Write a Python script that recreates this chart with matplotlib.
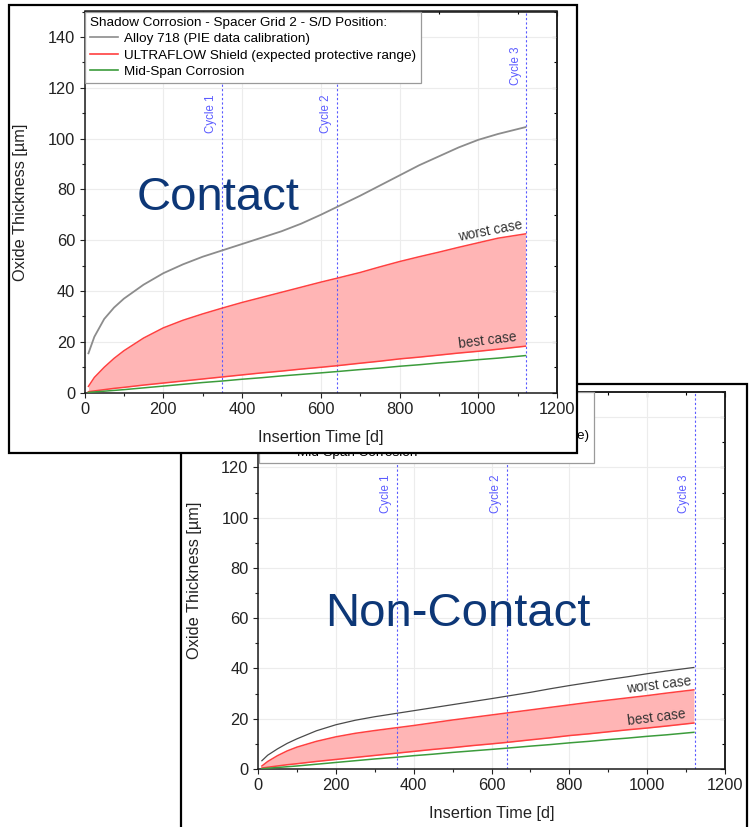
import matplotlib
matplotlib.use("Agg")
import matplotlib.pyplot as plt
from matplotlib.patches import Rectangle
from matplotlib.lines import Line2D
from matplotlib.ticker import MultipleLocator

plt.rcParams['font.family'] = ['Liberation Sans', 'DejaVu Sans']

# insertion time grid [d]
t_days = [10, 25, 50, 75, 100, 150, 200, 250, 300, 350, 400, 450, 500,
          550, 600, 640, 700, 750, 800, 850, 900, 950, 1000, 1050, 1120]

# contact position
alloy_contact = [15.5, 22, 29, 33.5, 37, 42.5, 47, 50.5, 53.5, 56, 58.5, 61, 63.5,
                 66.5, 70, 73, 77.5, 81.5, 85.5, 89.5, 93, 96.5, 99.5, 101.8, 104.5]
worst_contact = [2.5, 6, 10, 13.5, 16.5, 21.5, 25.5, 28.5, 31, 33.3, 35.5, 37.5, 39.5,
                 41.5, 43.5, 45, 47.3, 49.5, 51.6, 53.5, 55.3, 57.2, 59, 60.8, 62.5]

# non-contact position
alloy_noncontact = [3.3, 5.5, 8, 10.2, 12, 15.2, 17.6, 19.4, 20.8, 22, 23.2, 24.4, 25.6,
                    26.8, 28, 29, 30.5, 31.9, 33.2, 34.4, 35.6, 36.7, 37.9, 39, 40.4]
worst_noncontact = [1.2, 3, 5.3, 7.2, 8.7, 11, 12.8, 14.2, 15.3, 16.3, 17.3, 18.4, 19.5,
                    20.5, 21.5, 22.3, 23.5, 24.5, 25.5, 26.5, 27.4, 28.3, 29.2, 30.2, 31.5]

# common to both positions
best_case = [0.4, 0.7, 1.2, 1.7, 2.1, 3.0, 3.8, 4.6, 5.4, 6.2, 7.0, 7.8, 8.5,
             9.3, 10.0, 10.6, 11.6, 12.4, 13.3, 14.0, 14.8, 15.6, 16.3, 17.1, 18.3]
mid_span = [0.1, 0.3, 0.6, 0.9, 1.2, 1.9, 2.6, 3.3, 4.0, 4.6, 5.3, 5.9, 6.6,
            7.2, 7.8, 8.3, 9.1, 9.7, 10.4, 11.0, 11.7, 12.3, 13.0, 13.6, 14.6]

cycles_contact = [348, 640, 1122]
cycles_noncontact = [357, 640, 1122]
cycle_names = ['Cycle 1', 'Cycle 2', 'Cycle 3']

legend_title = 'Shadow Corrosion - Spacer Grid 2 - S/D Position:'
legend_labels = ['Alloy 718 (PIE data calibration)',
                 'ULTRAFLOW Shield (expected protective range)',
                 'Mid-Span Corrosion']

GRAY = '#8c8c8c'
RED = '#ff4040'
FILL = '#ffb5b5'
GREEN = '#3c9c3c'
BLUE = '#5a5aff'
NAVY = '#0d3777'

W, H = 749, 827
fig = plt.figure(figsize=(W / 100, H / 100), dpi=100)


def fx(px):
    return px / W


def fy(py):
    return 1 - py / H


def frame(x0, y0, x1, y1, z):
    rect = Rectangle((fx(x0), fy(y1)), fx(x1) - fx(x0), fy(y0) - fy(y1),
                     transform=fig.transFigure, facecolor='white',
                     edgecolor='black', lw=1.6, zorder=z)
    fig.add_artist(rect)


def make_axes(x0, y0, x1, y1, z):
    ax = fig.add_axes([fx(x0), fy(y1), fx(x1) - fx(x0), fy(y0) - fy(y1)])
    ax.set_zorder(z)
    ax.set_xlim(0, 1200)
    ax.set_ylim(0, 150)
    ax.set_xticks(range(0, 1201, 200))
    ax.set_yticks(range(0, 141, 20))
    ax.xaxis.set_minor_locator(MultipleLocator(100))
    ax.yaxis.set_minor_locator(MultipleLocator(10))
    ax.tick_params(which='major', length=3.8, width=0.8, labelsize=11.8,
                   colors='#222222', pad=3)
    ax.tick_params(which='minor', length=2.2, width=0.8, colors='#222222')
    for s in ax.spines.values():
        s.set_linewidth(1.1)
        s.set_color('#1a1a1a')
    ax.grid(True, color='#ececec', lw=0.8, zorder=0)
    ax.set_axisbelow(True)

    # inward ticks on the top and right sides
    sx = ax.secondary_xaxis('top')
    sx.set_xticks(range(0, 1201, 200))
    sx.xaxis.set_minor_locator(MultipleLocator(100))
    sx.tick_params(which='both', direction='in', labeltop=False, width=0.8)
    sx.tick_params(which='major', length=3.8)
    sx.tick_params(which='minor', length=2.2)
    sy = ax.secondary_yaxis('right')
    sy.set_yticks(range(0, 141, 20))
    sy.yaxis.set_minor_locator(MultipleLocator(10))
    sy.tick_params(which='both', direction='in', labelright=False, width=0.8)
    sy.tick_params(which='major', length=3.8)
    sy.tick_params(which='minor', length=2.2)
    for s in list(sx.spines.values()) + list(sy.spines.values()):
        s.set_linewidth(1.1)
        s.set_color('#1a1a1a')

    ax.set_xlabel('Insertion Time [d]', fontsize=11.8, color='#222222')
    ax.set_ylabel('Oxide Thickness [µm]', fontsize=11.8, color='#222222')
    ax.xaxis.set_label_coords(0.5, -0.097)
    ax.yaxis.set_label_coords(-0.119, 0.5)

    handles = [Line2D([], [], color=GRAY, lw=1.2),
               Line2D([], [], color=RED, lw=1.2),
               Line2D([], [], color=GREEN, lw=1.2)]
    leg = ax.legend(handles, legend_labels, title=legend_title,
                    loc='upper left', bbox_to_anchor=(0.002, 0.999),
                    borderaxespad=0, fontsize=9.7, title_fontsize=9.7,
                    alignment='left', fancybox=False, framealpha=1,
                    edgecolor='#9a9a9a', handlelength=2.1, handletextpad=0.4,
                    labelspacing=0.3, borderpad=0.35)
    leg.get_frame().set_linewidth(0.9)
    leg.set_zorder(10)
    return ax


def draw_series(ax, alloy, worst, alloy_color, alloy_lw, cycles, cycle_y,
                worst_rot, best_rot):
    ax.fill_between(t_days, best_case, worst, color=FILL, lw=0, zorder=1)
    ax.plot(t_days, alloy, color=alloy_color, lw=alloy_lw, zorder=3)
    ax.plot(t_days, worst, color=RED, lw=1.1, zorder=3)
    ax.plot(t_days, best_case, color=RED, lw=1.1, zorder=3)
    ax.plot(t_days, mid_span, color=GREEN, lw=1.1, zorder=3)
    for xc, name, yc in zip(cycles, cycle_names, cycle_y):
        ax.axvline(xc, color=BLUE, lw=0.8, ls=(0, (2, 2)), zorder=2)
        ax.text(xc - 12, yc, name, rotation=90, ha='right', va='bottom',
                fontsize=8.3, color=BLUE)
    ax.text(1115, worst[-1] + 0.8, 'worst case', rotation=worst_rot,
            rotation_mode='anchor', ha='right', va='bottom', fontsize=9.8,
            color='#333333', zorder=4)
    ax.text(1100, best_case[-1] + 0.8, 'best case', rotation=best_rot,
            rotation_mode='anchor', ha='right', va='bottom', fontsize=9.8,
            color='#333333', zorder=4)


# non-contact panel sits underneath
frame(181, 384, 747, 840, 1)
ax_nc = make_axes(258, 392, 725, 769, 2)
draw_series(ax_nc, alloy_noncontact, worst_noncontact, '#4a4a4a', 0.9,
            cycles_noncontact, [102, 102, 102], 7, 7)
ax_nc.text(fx(458), fy(626), 'Non-Contact', transform=fig.transFigure,
           ha='center', va='baseline', fontsize=34, color=NAVY, zorder=6)

# contact panel on top
frame(9, 5, 577, 453, 3)
ax_c = make_axes(84.5, 11.5, 557, 392.7, 4)
draw_series(ax_c, alloy_contact, worst_contact, GRAY, 1.3,
            cycles_contact, [102, 102, 121], 11, 7)
ax_c.text(fx(218), fy(210), 'Contact', transform=fig.transFigure,
          ha='center', va='baseline', fontsize=34, color=NAVY, zorder=6)

fig.savefig('out.png', dpi=100, facecolor='white')
